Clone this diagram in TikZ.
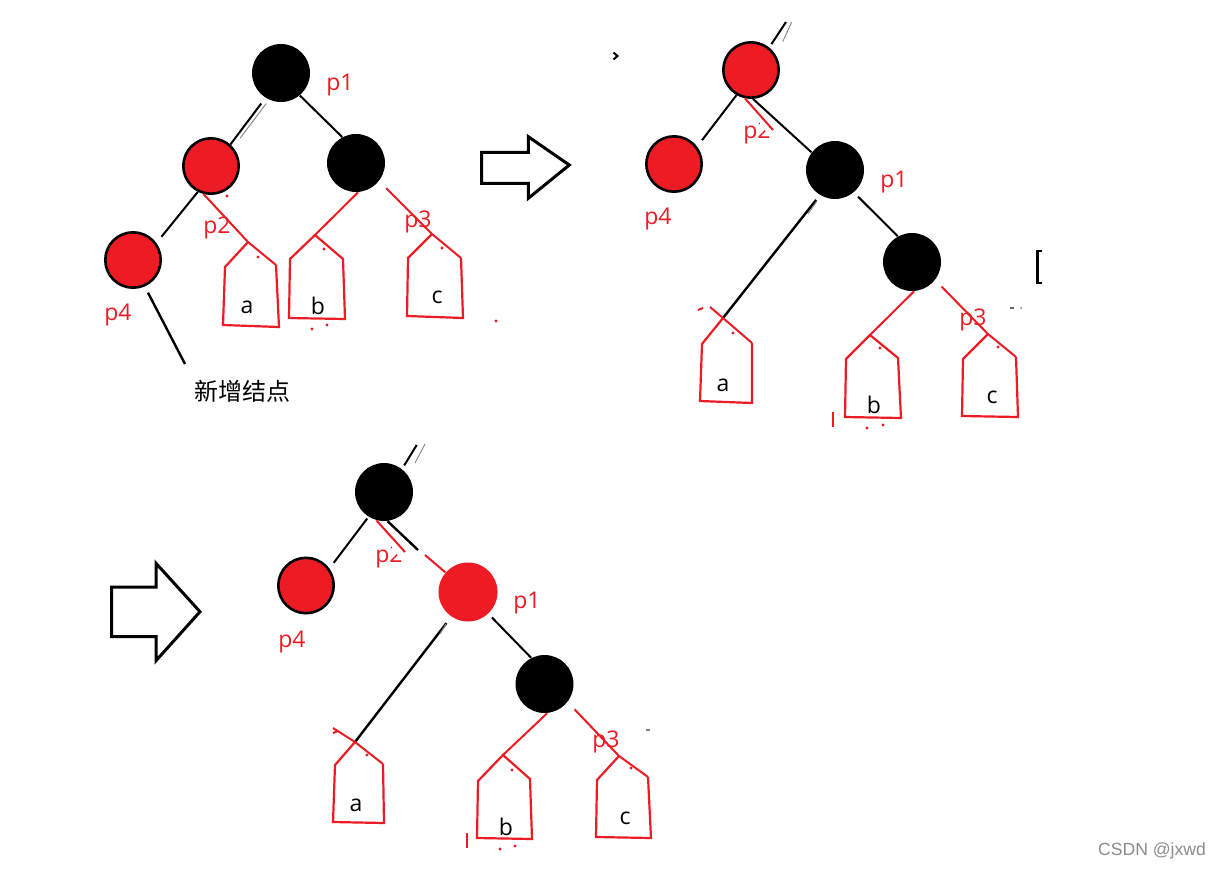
\documentclass[tikz,border=0pt]{standalone}
\usepackage{fontspec}
\setmainfont{Open Sans}
\newfontfamily\cjk{Noto Sans CJK SC}
\newfontfamily\wmfont{Liberation Sans}
\definecolor{pred}{HTML}{ED1C24}
\begin{document}
\begin{tikzpicture}[x=0.5pt,y=-0.5pt,
 bk/.style={circle,fill=black,minimum size=29pt,inner sep=0pt},
 rdo/.style={circle,fill=pred,draw=black,line width=1.3pt,minimum size=27.7pt,inner sep=0pt},
 rdn/.style={circle,fill=pred,minimum size=29.5pt,inner sep=0pt},
 lbl/.style={text=pred,font=\fontsize{11.5}{13}\selectfont,inner sep=0pt},
 leaf/.style={text=black,font=\fontsize{11.5}{13}\selectfont,inner sep=0pt},
 edge/.style={draw=black,line width=1pt},
 faint/.style={draw=black!45,line width=0.5pt},
 redl/.style={draw=pred,line width=1pt},
 leafbox/.style={draw=pred,line width=1.1pt,line join=miter},
 harrow/.style={draw=black,line width=1.5pt,fill=white,line join=miter},
 dotc/.style={fill=pred}
]
\useasboundingbox (0,0) rectangle (1220,868);
\fill[white] (0,0) rectangle (1220,868);

% ================= tree 1 =================
\node[bk] (r1) at (281,73) {};
\node[rdo] (a1) at (211,166) {};
\node[bk] (b1) at (356,163) {};
\node[rdo] (d1) at (133,260) {};
\node[lbl] (l1p1) at (340,85) {p1};
\node[lbl] (l1p2) at (217,228) {p2};
\node[lbl] (l1p4) at (118,315) {p4};

\draw[edge,shorten <=3.5pt] (r1.238) -- (a1.48);
\draw[faint,shorten <=3.5pt,shorten >=4pt] ([xshift=2.5pt]r1.238) -- ([xshift=2.5pt]a1.48);
\draw[edge] (r1.-50) -- (b1.118);
\draw[edge,shorten >=4pt] (a1.243) -- (d1.36);

\coordinate (A1t) at (248,242); \coordinate (A1L) at (225,267); \coordinate (A1R) at (276,265);
\coordinate (A1bl) at (223,325); \coordinate (A1br) at (279,327);
\draw[redl] (a1.255) -- (A1t) -- (A1R);
\draw[leafbox] (A1R) -- (A1br) -- (A1bl) -- (A1L) -- (A1t);
\node[leaf] (A1x) at (247,307) {a};

\coordinate (B1t) at (315,235); \coordinate (B1L) at (290,259); \coordinate (B1R) at (343,259);
\coordinate (B1bl) at (289,318); \coordinate (B1br) at (345,319);
\draw[redl] (b1.-86) -- (B1t);
\draw[leafbox] (B1t) -- (B1R) -- (B1br) -- (B1bl) -- (B1L) -- cycle;
\node[leaf] (B1x) at (318,306) {b};

\coordinate (C1t) at (432,234); \coordinate (C1L) at (408,258); \coordinate (C1R) at (461,258);
\coordinate (C1bl) at (407,316); \coordinate (C1br) at (463,318);
\draw[redl,shorten <=5pt] (b1.-38) -- (C1t) -- (C1R);
\draw[leafbox] (C1R) -- (C1br) -- (C1bl) -- (C1L) -- (C1t);
\node[leaf] (C1x) at (437,297) {c};
\node[lbl] (l1p3) at (418,222) {p3};

\foreach \p in {(258,257),(227,196),(324,249),(312,329),(327,325),(442,248),(496,321)}
  \fill[dotc] \p circle (0.8pt);

\node[font=\cjk\fontsize{12}{14}\selectfont] (new) at (242,391) {新增结点};
\coordinate (n1e) at (185,364);
\draw[edge,line width=1.2pt,shorten <=3.5pt] (d1.-66) -- (n1e);

% arrow 1
\draw[harrow] (481.7,152.3) -- (528.3,152.3) -- (528.3,136.7) -- (569.3,165) -- (528.3,198.3) -- (528.3,183.3) -- (481.7,183.3) -- cycle;
\draw[line width=1pt] (613.5,52.5) -- (617.5,56) -- (613.5,59.5);

% ================= tree 2 =================
\node[rdo] (r2) at (751,70) {};
\node[rdo] (d2) at (674,164) {};
\node[bk] (p12) at (835,170) {};
\node[bk] (b2) at (912,262) {};
\node[lbl] (l2p4) at (658,219) {p4};
\node[lbl] (l2p1) at (894,182) {p1};

\coordinate (s2) at (786,22);
\draw[edge,shorten <=2pt] (r2.51) -- (s2);
\draw[faint] (791.7,22) -- (782.7,41.7);
\draw[edge,shorten >=4pt] (r2.240) -- (d2.37);
\coordinate (e2) at (773,130);
\draw[redl] (r2.258) -- (e2);
\begin{scope}
  \clip (700,100) -- (759,100) -- (759,124) -- (779,146) -- (779,170) -- (700,170) -- cycle;
  \node[lbl] (l2p2) at (757,133) {p2};
\end{scope}
\draw[edge] (r2.-86) -- (p12.143.5);
\draw[edge,shorten <=3pt] (p12.-50) -- (b2.119);

\coordinate (A2s) at (710,307); \coordinate (A2t) at (723,318); \coordinate (A2R) at (752,343);
\coordinate (A2L) at (702,344); \coordinate (A2bl) at (700,401); \coordinate (A2br) at (752,403);
\draw[edge,line width=1.2pt,shorten <=3pt] (p12.239) -- (A2t);
\draw[faint] (817,201) -- (808,214);
\draw[redl] (A2s) -- (A2t) -- (A2R);
\draw[leafbox] (A2R) -- (A2br) -- (A2bl) -- (A2L) -- (A2t);
\node[leaf] (A2x) at (723,385) {a};
\draw[redl] (698,310) -- (703,308);

\coordinate (B2t) at (870,335); \coordinate (B2L) at (846,359); \coordinate (B2R) at (898,358);
\coordinate (B2bl) at (845,417); \coordinate (B2br) at (901,418);
\draw[redl] (b2.-86) -- (B2t);
\draw[leafbox] (B2t) -- (B2R) -- (B2br) -- (B2bl) -- (B2L) -- cycle;
\node[leaf] (B2x) at (874,405) {b};
\draw[redl,line width=0.6pt] (833,412) -- (833,427);

\coordinate (C2t) at (988,334); \coordinate (C2L) at (963,359); \coordinate (C2R) at (1016,357);
\coordinate (C2bl) at (962,416); \coordinate (C2br) at (1018,417);
\draw[redl,shorten <=4.5pt] (b2.-38) -- (C2t) -- (C2R);
\draw[leafbox] (C2R) -- (C2br) -- (C2bl) -- (C2L) -- (C2t);
\node[leaf] (C2x) at (992,397) {c};
\node[lbl] (l2p3) at (973,320) {p3};

\foreach \p in {(733,333),(880,348),(867,428),(883,425),(998,347)}
  \fill[dotc] \p circle (0.8pt);

\draw[line width=1.2pt] (1041.7,251) -- (1037.5,251) -- (1037.5,283) -- (1041.7,283);
\draw[black!60,line width=0.6pt] (1010,308) -- (1014,308);
\fill[black!50] (1021,308) circle (0.5pt);

% arrow 2
\draw[harrow] (111.7,587) -- (156,587) -- (156,563.3) -- (200,611.7) -- (156,660.7) -- (156,636.7) -- (111.7,636.7) -- cycle;

% ================= tree 3 =================
\node[bk] (r3) at (384,492) {};
\node[rdo] (d3) at (306,585.5) {};
\node[rdn] (p13) at (468,592) {};
\node[bk] (b3) at (544.5,684) {};
\node[lbl] (l3p4) at (292,642) {p4};
\node[lbl] (l3p1) at (527,603) {p1};

\coordinate (s3) at (416.7,445);
\draw[edge,shorten <=2pt] (r3.52) -- (s3);
\draw[faint] (425,444) -- (415,463);
\draw[edge,shorten <=1pt,shorten >=3.5pt] (r3.238) -- (d3.36.5);
\coordinate (e3) at (405,552);
\draw[redl] (r3.255) -- (e3);
\begin{scope}
  \clip (330,520) -- (391,520) -- (391,548) -- (411,570) -- (411,600) -- (330,600) -- cycle;
  \node[lbl] (l3p2) at (389,557) {p2};
\end{scope}
\coordinate (k3) at (418,550);
\draw[edge,line width=1.2pt] (r3.-83) -- (k3);
\coordinate (k3r) at (425,555);
\draw[redl] (k3r) -- (p13.139);
\draw[edge,shorten <=2.5pt] (p13.-47) -- (b3.117);

\coordinate (A3s) at (333,728); \coordinate (A3t) at (355,742); \coordinate (A3R) at (383,764);
\coordinate (A3L) at (335,765); \coordinate (A3bl) at (333,822); \coordinate (A3br) at (384,823);
\draw[edge,line width=1.2pt,shorten <=4pt] (p13.236) -- (A3t);
\draw[faint] (446,624) -- (440,634);
\draw[redl] (A3s) -- (A3t) -- (A3R);
\draw[leafbox] (A3R) -- (A3br) -- (A3bl) -- (A3L) -- (A3t);
\node[leaf] (A3x) at (356,805) {a};
\draw[redl] (333,733) -- (338,731);

\coordinate (B3t) at (503,755); \coordinate (B3L) at (478,781); \coordinate (B3R) at (530,779);
\coordinate (B3bl) at (477,838); \coordinate (B3br) at (532,839);
\draw[redl] (b3.-85) -- (B3t);
\draw[leafbox] (B3t) -- (B3R) -- (B3br) -- (B3bl) -- (B3L) -- cycle;
\node[leaf] (B3x) at (506,827) {b};
\draw[redl,line width=0.6pt] (467,833) -- (467,848);

\coordinate (C3t) at (619,756); \coordinate (C3L) at (597,780); \coordinate (C3R) at (648,777);
\coordinate (C3bl) at (596,837); \coordinate (C3br) at (651,838);
\draw[redl,shorten <=5pt] (b3.-38) -- (C3t) -- (C3R);
\draw[leafbox] (C3R) -- (C3br) -- (C3bl) -- (C3L) -- (C3t);
\node[leaf] (C3x) at (625,818) {c};
\node[lbl] (l3p3) at (606,742) {p3};

\foreach \p in {(367,755),(512,770),(500,849),(515,846),(631,768)}
  \fill[dotc] \p circle (0.8pt);
\draw[black!50,line width=0.6pt] (646,730) -- (650,730);

% watermark
\node[font=\wmfont\fontsize{8.8}{10}\selectfont,text=black!45] (wm) at (1152,851) {CSDN @jxwd};
\end{tikzpicture}
\end{document}
